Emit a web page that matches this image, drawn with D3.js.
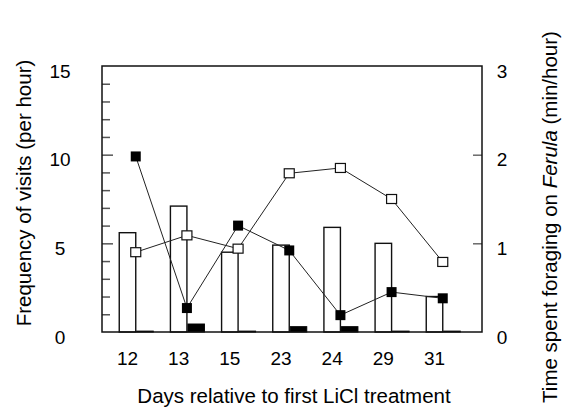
<!DOCTYPE html>
<html>
<head>
<meta charset="utf-8">
<script src="https://cdn.jsdelivr.net/npm/d3@7"></script>
<style>
  body { margin: 0; background: #fff; }
  svg { display: block; font-family: 'Liberation Sans', Arial, sans-serif; }
</style>
</head>
<body>
<div class="chart-container"></div>
<script>
let days = ['12', '13', '15', '23', '24', '29', '31']
// open bars, frequency of visits (left axis)
let visitsOpen = [5.6, 7.1, 4.5, 4.9, 5.9, 5.0, 2.0]
// black bars, frequency of visits (left axis)
let visitsBlack = [0.05, 0.45, 0.05, 0.3, 0.3, 0.05, 0.05]
// open squares, time foraging (right axis)
let timeOpen = [0.90, 1.09, 0.94, 1.79, 1.85, 1.50, 0.79]
// filled squares, time foraging (right axis)
let timeFilled = [1.98, 0.27, 1.20, 0.92, 0.19, 0.45, 0.38]
let leftTicks = [0, 5, 10, 15]
let rightTicks = [0, 1, 2, 3]

let width = 564,
    height = 407,
    plot = { left: 102, right: 482, top: 66, bottom: 332 },
    barW = 16.5

let svg = d3.select('.chart-container')
  .append('svg')
  .attr('width', width)
  .attr('height', height)

let x = d3.scalePoint()
  .domain(days)
  .range([127.5, 434.5])

let yLeft = d3.scaleLinear()
  .domain([0, 15])
  .range([plot.bottom, plot.top])

let yRight = d3.scaleLinear()
  .domain([0, 3])
  .range([plot.bottom, plot.top])

// minor + major ticks on the left, pointing in
let leftAxis = d3.axisRight(yLeft)
  .tickValues(d3.range(1, 15))
  .tickSize(8)
  .tickFormat('')

let gl = svg.append('g')
  .attr('transform', `translate(${plot.left},0)`)
  .call(leftAxis)
gl.select('.domain').remove()
gl.selectAll('.tick line')
  .attr('stroke', '#555')
  .attr('stroke-width', 1.5)
  .attr('x2', function (d) { return d % 5 === 0 ? 11 : 8 })

let rightAxis = d3.axisLeft(yRight)
  .tickValues([1, 2])
  .tickSize(9)
  .tickFormat('')

let gr = svg.append('g')
  .attr('transform', `translate(${plot.right},0)`)
  .call(rightAxis)
gr.select('.domain').remove()
gr.selectAll('.tick line')
  .attr('stroke', '#444')
  .attr('stroke-width', 1.2)

// bars
svg.selectAll('.bar-open')
  .data(visitsOpen)
  .enter()
  .append('rect')
  .attr('class', 'bar-open')
  .attr('x', function (d, i) { return x(days[i]) - barW / 2 })
  .attr('y', function (d) { return yLeft(d) })
  .attr('width', barW)
  .attr('height', function (d) { return yLeft(0) - yLeft(d) })
  .attr('fill', '#fff')
  .attr('stroke', '#111')
  .attr('stroke-width', 1.4)

svg.selectAll('.bar-black')
  .data(visitsBlack)
  .enter()
  .append('rect')
  .attr('class', 'bar-black')
  .attr('x', function (d, i) { return x(days[i]) + barW / 2 + 1 })
  .attr('y', function (d) { return yLeft(d) })
  .attr('width', barW)
  .attr('height', function (d) { return yLeft(0) - yLeft(d) })
  .attr('fill', '#000')
  .attr('stroke', '#000')
  .attr('stroke-width', 1)

// frame
svg.append('rect')
  .attr('x', plot.left)
  .attr('y', plot.top)
  .attr('width', plot.right - plot.left)
  .attr('height', plot.bottom - plot.top)
  .attr('fill', 'none')
  .attr('stroke', '#111')
  .attr('stroke-width', 1.5)

let mx = function (d, i) { return x(days[i]) + barW / 2 }

let line = d3.line()
  .x(mx)
  .y(function (d) { return yRight(d) })

svg.append('path')
  .datum(timeFilled)
  .attr('d', line)
  .attr('fill', 'none')
  .attr('stroke', '#222')
  .attr('stroke-width', 1)

svg.append('path')
  .datum(timeOpen)
  .attr('d', line)
  .attr('fill', 'none')
  .attr('stroke', '#222')
  .attr('stroke-width', 1)

svg.selectAll('.sq-filled')
  .data(timeFilled)
  .enter()
  .append('rect')
  .attr('class', 'sq-filled')
  .attr('x', function (d, i) { return mx(d, i) - 5 })
  .attr('y', function (d) { return yRight(d) - 5 })
  .attr('width', 10)
  .attr('height', 10)
  .attr('fill', '#000')

svg.selectAll('.sq-open')
  .data(timeOpen)
  .enter()
  .append('rect')
  .attr('class', 'sq-open')
  .attr('x', function (d, i) { return mx(d, i) - 5 })
  .attr('y', function (d) { return yRight(d) - 4.5 })
  .attr('width', 10)
  .attr('height', 9)
  .attr('fill', '#fff')
  .attr('stroke', '#111')
  .attr('stroke-width', 1.2)

// tick labels
svg.selectAll('.lbl-left')
  .data(leftTicks)
  .enter()
  .append('text')
  .attr('x', 60)
  .attr('y', function (d) { return yLeft(d) + 5 })
  .attr('dy', '0.35em')
  .attr('text-anchor', 'middle')
  .style('font-size', '19px')
  .text(function (d) { return d })

svg.selectAll('.lbl-right')
  .data(rightTicks)
  .enter()
  .append('text')
  .attr('x', 502)
  .attr('y', function (d) { return yRight(d) + 5 })
  .attr('dy', '0.35em')
  .attr('text-anchor', 'middle')
  .style('font-size', '19px')
  .text(function (d) { return d })

svg.selectAll('.lbl-x')
  .data(days)
  .enter()
  .append('text')
  .attr('x', function (d) { return x(d) })
  .attr('y', 365)
  .attr('text-anchor', 'middle')
  .style('font-size', '19px')
  .text(function (d) { return d })

// axis titles
svg.append('text')
  .attr('x', 294)
  .attr('y', 403)
  .attr('text-anchor', 'middle')
  .style('font-size', '20.5px')
  .text('Days relative to first LiCl treatment')

svg.append('text')
  .attr('transform', 'translate(31,193) rotate(-90)')
  .attr('text-anchor', 'middle')
  .style('font-size', '20.5px')
  .text('Frequency of visits (per hour)')

let rt = svg.append('text')
  .attr('transform', 'translate(557,217) rotate(-90)')
  .attr('text-anchor', 'middle')
  .style('font-size', '20.5px')
rt.append('tspan').text('Time spent foraging on ')
rt.append('tspan').style('font-style', 'italic').text('Ferula')
rt.append('tspan').text(' (min/hour)')
</script>
</body>
</html>
